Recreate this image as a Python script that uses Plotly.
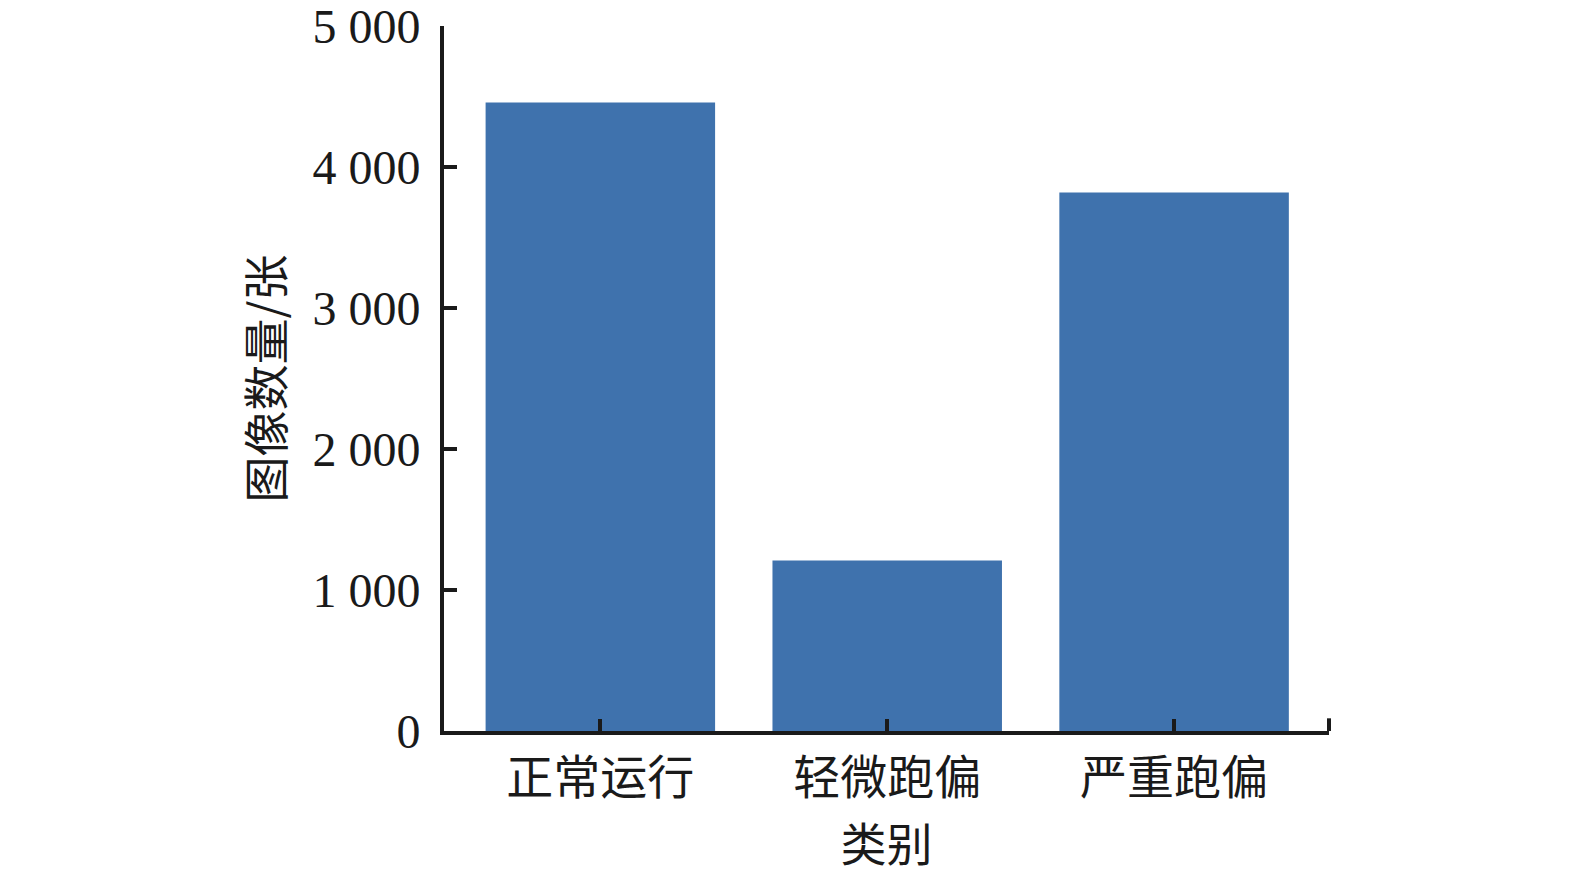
import plotly.graph_objects as go

categories = ["正常运行", "轻微跑偏", "严重跑偏"]
counts = [4460, 1210, 3820]
y_tickvals = [0, 1000, 2000, 3000, 4000, 5000]
y_ticktext = ["0", "1 000", "2 000", "3 000", "4 000", "5 000"]

serif = "Liberation Serif, Noto Sans CJK SC, serif"
axis_color = "#1a1a1a"

fig = go.Figure(go.Bar(
    x=categories, y=counts,
    marker=dict(color="#3F72AD", line=dict(width=0)),
    width=0.8,
))

fig.update_layout(
    width=1567, height=867, autosize=False,
    margin=dict(l=436, r=246, t=18, b=144, autoexpand=False),
    plot_bgcolor="white", paper_bgcolor="white",
    showlegend=False,
    font=dict(family=serif, color=axis_color),
)

fig.update_xaxes(
    range=[-0.545, 2.54], automargin=False,
    showline=True, linecolor=axis_color, linewidth=4,
    ticks="inside", ticklen=12, tickwidth=4, tickcolor=axis_color,
    tickfont=dict(size=47, family="Noto Sans CJK SC", color=axis_color),
    ticklabelstandoff=3,
    showgrid=False, zeroline=False,
    title=dict(text="类别", font=dict(size=46, family="Noto Sans CJK SC", color=axis_color), standoff=2),
)

fig.update_yaxes(
    range=[0, 5002], automargin=False,
    tickvals=y_tickvals, ticktext=y_ticktext,
    showline=True, linecolor=axis_color, linewidth=4,
    ticks="inside", ticklen=13, tickwidth=4, tickcolor=axis_color,
    tickfont=dict(size=48, family="Liberation Serif", color=axis_color),
    ticklabelstandoff=10, ticklabeloverflow="allow",
    showgrid=False, zeroline=False,
    title=dict(text="图像数量/张", font=dict(size=46, family="Noto Sans CJK SC", color=axis_color), standoff=15),
)

# small end tick at right end of x axis
fig.add_shape(type="line", xref="paper", yref="y", x0=1, x1=1, y0=0, y1=90,
              line=dict(color=axis_color, width=4))

fig.write_html("out.html")
